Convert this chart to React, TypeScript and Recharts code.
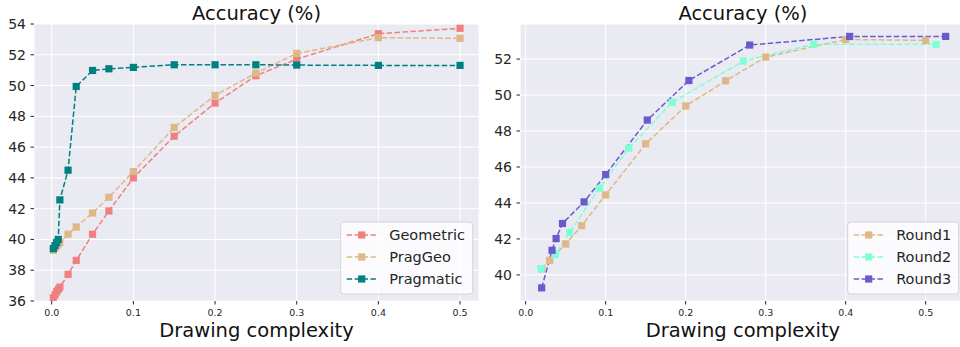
import React from "react";
import { LineChart, Line, XAxis, YAxis, CartesianGrid } from "recharts";

// ---------- data ----------
const leftX = [0.002, 0.004, 0.006, 0.008, 0.01, 0.02, 0.03, 0.05, 0.07, 0.1, 0.15, 0.2, 0.25, 0.3, 0.4, 0.5];
const geometric = [36.2, 36.4, 36.6, 36.75, 36.9, 37.73, 38.64, 40.34, 41.85, 44.0, 46.71, 48.86, 50.64, 51.72, 53.37, 53.72];
const pragGeo = [39.3, 39.45, 39.6, 39.7, 39.81, 40.34, 40.81, 41.72, 42.74, 44.41, 47.28, 49.36, 50.81, 52.09, 53.11, 53.07];
const pragmatic = [39.4, 39.6, 39.8, 40.0, 42.57, 44.5, 49.94, 50.98, 51.09, 51.18, 51.35, 51.35, 51.35, 51.33, 51.31, 51.31];

const round1X = [0.02, 0.03, 0.05, 0.07, 0.1, 0.15, 0.2, 0.25, 0.3, 0.4, 0.5];
const round1Y = [40.34, 40.81, 41.72, 42.74, 44.45, 47.29, 49.39, 50.79, 52.11, 53.09, 53.04];
const round2X = [0.019, 0.037, 0.055, 0.092, 0.129, 0.183, 0.272, 0.36, 0.513];
const round2Y = [40.35, 41.13, 42.37, 44.82, 47.05, 49.59, 51.89, 52.82, 52.82];
const round3X = [0.02, 0.033, 0.038, 0.046, 0.073, 0.1, 0.152, 0.204, 0.28, 0.405, 0.525];
const round3Y = [39.28, 41.37, 42.02, 42.86, 44.06, 45.58, 48.61, 50.81, 52.78, 53.26, 53.26];

const xTicks = [0, 0.1, 0.2, 0.3, 0.4, 0.5];
const leftYTicks = [36, 38, 40, 42, 44, 46, 48, 50, 52, 54];
const rightYTicks = [40, 42, 44, 46, 48, 50, 52];

const leftNames = ["Geometric", "PragGeo", "Pragmatic"];
const rightNames = ["Round1", "Round2", "Round3"];
const titleText = "Accuracy (%)";
const xLabelText = "Drawing complexity";

// ---------- styles ----------
const COLORS_LEFT = ["#F08080", "#DEB887", "#008080"];
const COLORS_RIGHT = ["#DEB887", "#7FFFD4", "#6A5ACD"];
const FONT = "DejaVu Sans, sans-serif";
const TEXT = "#262626";
const BG = "#EAEAF2";
const DASH = "5.5 2.4";

const zip = (xs: number[], ys: number[]) => xs.map((x, i) => ({ x, y: ys[i] }));

const leftSeries = [zip(leftX, geometric), zip(leftX, pragGeo), zip(leftX, pragmatic)];
const rightSeries = [zip(round1X, round1Y), zip(round2X, round2Y), zip(round3X, round3Y)];

const squareDot = (color: string) => (props: any) => {
  const { cx, cy, index } = props;
  if (cx == null || cy == null) return <g key={`n${index}`} />;
  return <rect key={`d${index}`} x={cx - 3.6} y={cy - 3.6} width={7.2} height={7.2} fill={color} />;
};

const tickStyle = (size: number) => ({ fontSize: size, fill: TEXT, fontFamily: FONT });

function Legend({ left, top, width, names, colors }: any) {
  return (
    <g>
      <rect x={left} y={top} width={width} height={72} rx={3} ry={3} fill="#FFFFFF" fillOpacity={0.82} stroke="#D4D4D8" strokeWidth={1} />
      {names.map((n: string, i: number) => {
        const cy = top + 13 + i * 22;
        return (
          <g key={n}>
            <line x1={left + 6} x2={left + 36} y1={cy} y2={cy} stroke={colors[i]} strokeWidth={1.5} strokeDasharray={DASH} />
            <rect x={left + 21 - 3.6} y={cy - 3.6} width={7.2} height={7.2} fill={colors[i]} />
            <text x={left + 48.5} y={cy} dy="0.36em" fontSize={14.5} fill={TEXT} fontFamily={FONT}>{n}</text>
          </g>
        );
      })}
    </g>
  );
}

export default function App() {
  return (
    <div style={{ position: "absolute", left: 0, top: 0, width: 960, height: 347, overflow: "hidden", background: "#fff", fontFamily: FONT }}>
      <div style={{ position: "absolute", left: 0, top: 0 }}>
        <LineChart width={480} height={347} margin={{ top: 24, right: 1, left: 0, bottom: 0 }}>
          <CartesianGrid stroke="#FFFFFF" strokeWidth={1} fill={BG} fillOpacity={1} />
          <XAxis
            dataKey="x"
            type="number"
            domain={[-0.0217, 0.5232]}
            allowDataOverflow
            ticks={xTicks}
            tickFormatter={(v: number) => v.toFixed(1)}
            tick={tickStyle(9.5)}
            tickSize={3.5}
            tickMargin={4.5}
            tickLine={{ stroke: TEXT }}
            axisLine={false}
            height={46}
          />
          <YAxis
            type="number"
            domain={[36, 54]}
            allowDataOverflow
            ticks={leftYTicks}
            tick={tickStyle(14)}
            tickSize={3.5}
            tickMargin={4.5}
            tickLine={{ stroke: TEXT }}
            axisLine={false}
            width={34}
          />
          {leftSeries.map((d, i) => (
            <Line
              key={leftNames[i]}
              data={d}
              dataKey="y"
              name={leftNames[i]}
              type="linear"
              stroke={COLORS_LEFT[i]}
              strokeWidth={1.5}
              strokeDasharray={DASH}
              dot={squareDot(COLORS_LEFT[i])}
              activeDot={false}
              isAnimationActive={false}
            />
          ))}
        </LineChart>
      </div>
      <div style={{ position: "absolute", left: 480, top: 0 }}>
        <LineChart width={490} height={347} margin={{ top: 24, right: 4.3, left: 0, bottom: 0 }}>
          <CartesianGrid stroke="#FFFFFF" strokeWidth={1} fill={BG} fillOpacity={1} />
          <XAxis
            dataKey="x"
            type="number"
            domain={[-0.0071, 0.55]}
            allowDataOverflow
            ticks={xTicks}
            tickFormatter={(v: number) => v.toFixed(1)}
            tick={tickStyle(9.5)}
            tickSize={3.5}
            tickMargin={4.5}
            tickLine={{ stroke: TEXT }}
            axisLine={false}
            height={46}
          />
          <YAxis
            type="number"
            domain={[38.55, 53.95]}
            allowDataOverflow
            ticks={rightYTicks}
            tick={tickStyle(14)}
            tickSize={3.5}
            tickMargin={4.5}
            tickLine={{ stroke: TEXT }}
            axisLine={false}
            width={40}
          />
          {rightSeries.map((d, i) => (
            <Line
              key={rightNames[i]}
              data={d}
              dataKey="y"
              name={rightNames[i]}
              type="linear"
              stroke={COLORS_RIGHT[i]}
              strokeWidth={1.5}
              strokeDasharray={DASH}
              dot={squareDot(COLORS_RIGHT[i])}
              activeDot={false}
              isAnimationActive={false}
            />
          ))}
        </LineChart>
      </div>
      <svg width={960} height={347} style={{ position: "absolute", left: 0, top: 0, pointerEvents: "none" }}>
        <text x={256.5} y={19.5} textAnchor="middle" fontSize={19.5} fill="#111" fontFamily={FONT}>{titleText}</text>
        <text x={742.9} y={19.5} textAnchor="middle" fontSize={19.5} fill="#111" fontFamily={FONT}>{titleText}</text>
        <text x={256.5} y={336.5} textAnchor="middle" fontSize={19.5} fill="#111" fontFamily={FONT}>{xLabelText}</text>
        <text x={742.9} y={336.5} textAnchor="middle" fontSize={19.5} fill="#111" fontFamily={FONT}>{xLabelText}</text>
        <Legend left={340.7} top={222} width={132} names={leftNames} colors={COLORS_LEFT} />
        <Legend left={847.7} top={222} width={111} names={rightNames} colors={COLORS_RIGHT} />
      </svg>
    </div>
  );
}
